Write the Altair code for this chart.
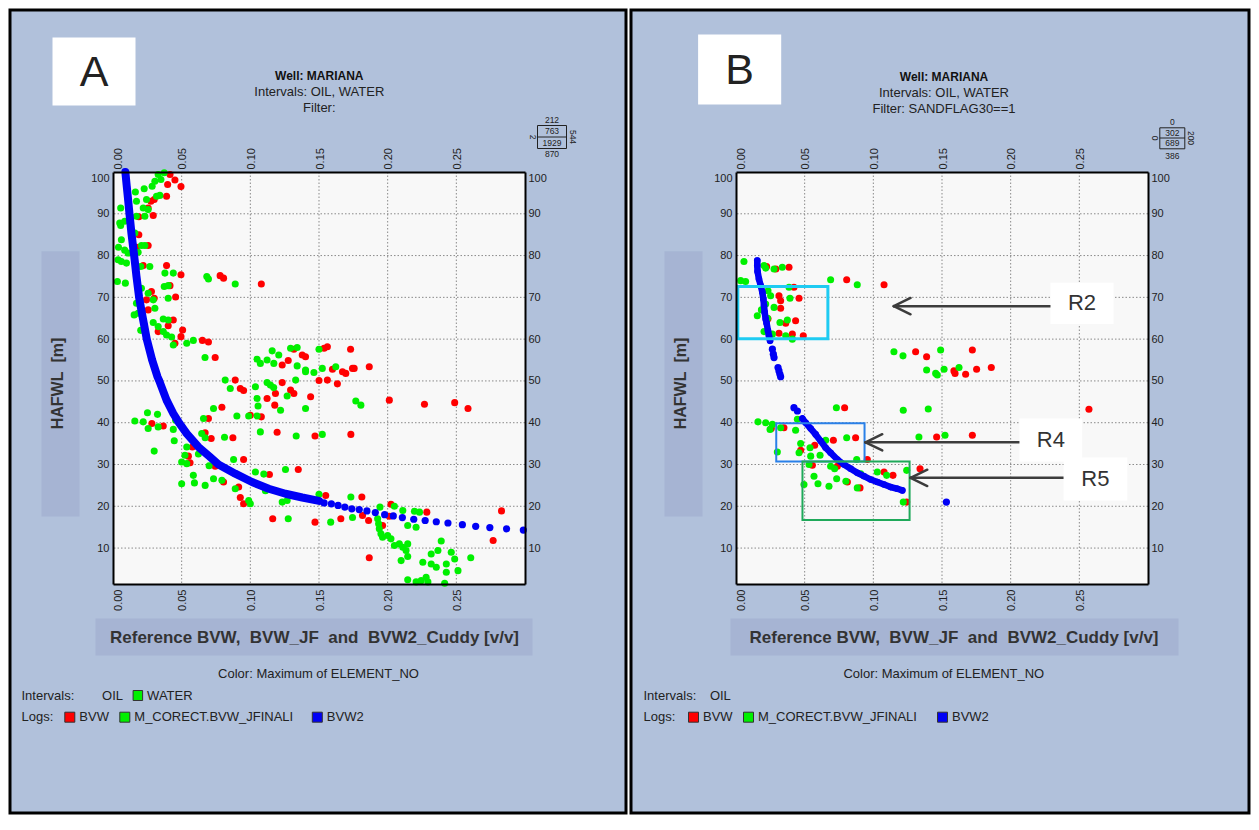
import altair as alt
import pandas as pd

# ------------------------------------------------------------------ data
X_TICKS = [0.00, 0.05, 0.10, 0.15, 0.20, 0.25]
X_GRID = [0.05, 0.10, 0.15, 0.20, 0.25]
Y_TICKS = [10, 20, 30, 40, 50, 60, 70, 80, 90, 100]
Y_GRID = [10, 20, 30, 40, 50, 60, 70, 80, 90]

# Panel A : BVW (red)
A_BVW = [
    (0.0415, 99.4), (0.0451, 98.1), (0.0495, 96.5), (0.0398, 97.0), (0.0390, 94.2), (0.0300, 93.4),
    (0.0276, 93.0), (0.0293, 89.6), (0.0256, 91.4), (0.0188, 89.3), (0.0188, 85.0), (0.0256, 82.4),
    (0.0171, 82.0), (0.0220, 77.6), (0.0390, 77.6), (0.0495, 75.4), (0.0780, 75.2), (0.0805, 74.6),
    (0.1080, 73.2), (0.0415, 72.8), (0.0456, 70.1), (0.0280, 71.4), (0.0300, 69.8), (0.0244, 69.4),
    (0.0439, 64.6), (0.0402, 63.2), (0.0507, 62.2), (0.0495, 60.6), (0.0651, 59.7), (0.0695, 59.3),
    (0.0744, 55.6), (0.0329, 61.8), (0.0451, 59.0), (0.0256, 67.0), (0.1317, 57.6), (0.1378, 56.2),
    (0.1402, 55.8), (0.1276, 54.9), (0.1232, 53.8), (0.1537, 57.8), (0.1561, 58.2), (0.1730, 57.6),
    (0.1598, 52.8), (0.1671, 52.2), (0.1695, 51.8), (0.1756, 53.0), (0.1866, 53.4), (0.0890, 50.2),
    (0.0927, 48.2), (0.0951, 47.7), (0.1122, 45.8), (0.1183, 47.0), (0.1178, 44.2), (0.1232, 49.6),
    (0.1293, 47.8), (0.1317, 47.0), (0.1439, 46.2), (0.1500, 50.1), (0.1561, 50.2), (0.1634, 49.3),
    (0.0793, 43.7), (0.1000, 41.8), (0.1080, 41.4), (0.0695, 41.0), (0.2012, 45.4), (0.2268, 44.4),
    (0.2488, 44.8), (0.2585, 43.4), (0.1744, 53.0), (0.0283, 39.8), (0.0366, 39.2), (0.0578, 34.2),
    (0.0671, 37.6), (0.0715, 36.2), (0.0873, 36.4), (0.1195, 37.7), (0.1471, 36.8), (0.1732, 37.2),
    (0.0549, 32.0), (0.0951, 31.2), (0.0744, 29.6), (0.0561, 30.4), (0.0805, 25.8), (0.0915, 24.6),
    (0.0927, 22.1), (0.0951, 20.6), (0.1139, 27.6), (0.1349, 28.8), (0.1163, 17.0), (0.1471, 16.2),
    (0.1549, 22.6), (0.1812, 22.2), (0.1659, 17.0), (0.1817, 17.8), (0.1861, 16.6), (0.2024, 20.5),
    (0.1963, 15.4), (0.2285, 18.6), (0.2829, 18.9), (0.2768, 11.8), (0.1866, 7.7), (0.2012, 17.6),
]

# Panel A : M_CORECT.BVW_JFINALI (green)
A_JF = [
    (0.0329, 99.4), (0.0373, 99.8), (0.0305, 97.8), (0.0349, 98.2), (0.0285, 96.6), (0.0227, 96.0),
    (0.0244, 93.4), (0.0163, 95.2), (0.0220, 91.4), (0.0256, 91.0), (0.0056, 91.4), (0.0341, 94.4),
    (0.0317, 94.2), (0.0171, 93.0), (0.0232, 89.4), (0.0049, 87.8), (0.0056, 87.2), (0.0085, 88.2),
    (0.0170, 89.4), (0.0061, 83.8), (0.0040, 82.0), (0.0085, 81.3), (0.0207, 82.4), (0.0232, 82.4),
    (0.0183, 80.8), (0.0159, 85.4), (0.0110, 80.6), (0.0037, 79.0), (0.0061, 78.6), (0.0098, 78.2),
    (0.0202, 77.4), (0.0268, 77.4), (0.0378, 75.8), (0.0439, 75.8), (0.0032, 73.8), (0.0090, 73.4),
    (0.0207, 72.2), (0.0373, 72.6), (0.0402, 72.8), (0.0402, 69.8), (0.0256, 71.0), (0.0683, 75.0),
    (0.0695, 74.4), (0.0890, 73.2), (0.0171, 68.6), (0.0195, 69.0), (0.0293, 69.4), (0.0305, 67.4),
    (0.0183, 66.2), (0.0154, 65.8), (0.0293, 64.0), (0.0366, 64.8), (0.0402, 64.6), (0.0329, 63.0),
    (0.0366, 61.8), (0.0427, 60.5), (0.0439, 58.6), (0.0537, 59.0), (0.0585, 59.7), (0.0202, 62.1),
    (0.0390, 61.0), (0.0670, 55.6), (0.1159, 57.2), (0.1207, 56.2), (0.1293, 57.8), (0.1341, 58.0),
    (0.1500, 57.6), (0.1049, 55.2), (0.1073, 54.2), (0.1122, 55.0), (0.1171, 54.2), (0.1341, 53.6),
    (0.1402, 52.6), (0.1463, 52.0), (0.1524, 53.0), (0.1622, 53.4), (0.0817, 50.2), (0.0854, 48.2),
    (0.1037, 48.6), (0.1049, 45.8), (0.1122, 49.6), (0.1146, 49.0), (0.1170, 48.4), (0.1268, 46.4),
    (0.1220, 43.0), (0.1056, 44.0), (0.1330, 50.2), (0.1402, 52.2), (0.1402, 43.4), (0.1049, 41.6),
    (0.0988, 41.6), (0.0902, 41.6), (0.0732, 43.4), (0.0659, 41.0), (0.1768, 45.2), (0.1805, 44.2),
    (0.0159, 40.4), (0.0220, 40.2), (0.0251, 42.4), (0.0324, 42.0), (0.0256, 38.6), (0.0329, 39.0),
    (0.0439, 38.4), (0.0456, 40.6), (0.0646, 37.4), (0.0671, 36.4), (0.0446, 35.7), (0.0300, 33.2),
    (0.0537, 34.2), (0.0524, 32.2), (0.0500, 30.6), (0.0537, 30.2), (0.0622, 32.5), (0.0812, 36.5),
    (0.1073, 37.8), (0.1334, 36.8), (0.1524, 37.2), (0.0878, 31.2), (0.0700, 29.7), (0.0500, 25.4),
    (0.0585, 27.4), (0.0593, 25.6), (0.0671, 25.0), (0.0732, 26.6), (0.0793, 26.2), (0.0890, 24.2),
    (0.1037, 28.2), (0.1098, 27.7), (0.1110, 23.7), (0.0988, 21.4), (0.1000, 20.6), (0.1232, 21.0),
    (0.1268, 21.4), (0.1256, 28.8), (0.1500, 22.9), (0.1732, 22.2), (0.1276, 17.0), (0.1585, 16.2),
    (0.1744, 17.3), (0.1944, 19.8), (0.2049, 20.0), (0.2110, 19.0), (0.2195, 18.8), (0.2232, 18.6),
    (0.1927, 17.0), (0.1934, 15.8), (0.1939, 14.6), (0.1951, 13.4), (0.1963, 12.6), (0.2000, 13.0),
    (0.2024, 12.2), (0.2049, 10.6), (0.2085, 11.0), (0.2110, 10.2), (0.2146, 11.0), (0.2134, 9.4),
    (0.2146, 8.0), (0.2098, 7.0), (0.2146, 15.4), (0.2207, 15.0), (0.2256, 6.6), (0.2317, 8.6),
    (0.2366, 9.4), (0.2463, 9.0), (0.2390, 11.7), (0.2317, 6.2), (0.2354, 5.4), (0.2427, 6.2),
    (0.2427, 4.2), (0.2488, 7.4), (0.2512, 4.6), (0.2605, 7.7), (0.2146, 2.4), (0.2207, 1.9),
    (0.2244, 2.2), (0.2280, 3.0), (0.2293, 1.9), (0.2415, 1.6),
]

# Panel A : BVW2 (blue) – continuous band and separate dots
A_BVW2_BAND = [
    (0.0090, 100.0), (0.0100, 96.6), (0.0110, 93.4), (0.0120, 90.0), (0.0134, 85.4), (0.0154, 80.0),
    (0.0171, 75.0), (0.0190, 70.0), (0.0215, 65.4), (0.0246, 60.0), (0.0285, 55.0), (0.0324, 51.0),
    (0.0337, 50.0), (0.0390, 45.4), (0.0439, 42.2), (0.0480, 40.0), (0.0537, 37.4), (0.0622, 34.2),
    (0.0707, 31.8), (0.0768, 30.0), (0.0890, 27.8), (0.1012, 25.8), (0.1134, 24.2), (0.1256, 23.0),
    (0.1378, 22.1), (0.1500, 21.3),
]
A_BVW2_DOTS = [
    (0.1537, 20.8), (0.1590, 20.6), (0.1639, 20.2), (0.1688, 19.8), (0.1739, 19.4), (0.1793, 19.2),
    (0.1849, 18.9), (0.1910, 18.5), (0.1978, 18.0), (0.2041, 17.7), (0.2107, 17.3), (0.2190, 16.9),
    (0.2273, 16.6), (0.2354, 16.3), (0.2439, 16.0), (0.2544, 15.6), (0.2641, 15.2), (0.2744, 14.9),
    (0.2866, 14.6), (0.2988, 14.3),
]

# Panel B
B_BVW = [
    (0.0223, 77.4), (0.0290, 76.8), (0.0386, 77.2), (0.0806, 74.2), (0.1078, 73.0), (0.0313, 70.4),
    (0.0325, 69.2), (0.0459, 69.8), (0.0422, 72.4), (0.0325, 67.4), (0.0233, 64.9), (0.0362, 63.8),
    (0.0434, 64.4), (0.0313, 61.4), (0.0410, 61.2), (0.0490, 60.8), (0.1308, 57.0), (0.1388, 55.8),
    (0.1721, 57.4), (0.1587, 52.4), (0.1595, 51.8), (0.1672, 51.6), (0.1752, 52.8), (0.1859, 53.2),
    (0.0791, 43.6), (0.2570, 43.2), (0.1461, 36.6), (0.1721, 37.0), (0.0257, 38.6), (0.0349, 38.8),
    (0.0709, 35.8), (0.0871, 36.4), (0.0556, 29.8), (0.0573, 34.6), (0.0471, 33.4), (0.0738, 29.6),
    (0.0956, 31.2), (0.1078, 28.2), (0.1143, 27.4), (0.1340, 29.0), (0.0811, 25.8), (0.0903, 24.4),
    (0.1243, 21.0),
]
B_JF = [
    (0.0058, 78.6), (0.0204, 77.6), (0.0216, 77.0), (0.0277, 76.8), (0.0337, 77.2), (0.0034, 74.0),
    (0.0070, 73.8), (0.0689, 74.2), (0.0883, 73.0), (0.0233, 71.6), (0.0252, 70.4), (0.0386, 72.4),
    (0.0393, 69.8), (0.0216, 68.4), (0.0277, 67.6), (0.0155, 65.6), (0.0320, 64.0), (0.0374, 64.6),
    (0.0204, 61.8), (0.0265, 61.2), (0.0362, 60.8), (0.0410, 60.0), (0.0185, 67.0), (0.0230, 65.0),
    (0.1150, 57.0), (0.1216, 56.0), (0.1490, 57.4), (0.1388, 52.6), (0.1454, 51.8), (0.1466, 51.4),
    (0.1515, 52.8), (0.1624, 53.2), (0.1218, 43.0), (0.1400, 43.3), (0.0731, 43.6), (0.1332, 36.6),
    (0.1522, 37.0), (0.0160, 40.2), (0.0216, 40.0), (0.0265, 39.6), (0.0248, 38.4), (0.0325, 38.8),
    (0.0434, 38.2), (0.0447, 40.8), (0.0301, 33.0), (0.0471, 35.0), (0.0459, 32.8), (0.0539, 34.0),
    (0.0544, 32.0), (0.0612, 32.2), (0.0653, 35.8), (0.0806, 36.4), (0.0532, 30.0), (0.0689, 29.6),
    (0.0718, 29.0), (0.0879, 31.2), (0.0908, 27.8), (0.1029, 28.2), (0.1097, 27.4), (0.1243, 28.6),
    (0.0495, 25.2), (0.0568, 27.2), (0.0597, 25.4), (0.0677, 24.8), (0.0733, 26.6), (0.0800, 26.0),
    (0.0883, 24.4), (0.1218, 21.0),
]
B_BVW2_TOP = [
    (0.0155, 78.8), (0.0155, 77.6), (0.0157, 76.2), (0.0167, 74.4), (0.0180, 72.8), (0.0192, 71.2),
    (0.0199, 69.6), (0.0204, 68.0), (0.0209, 66.4), (0.0216, 64.8), (0.0223, 63.8), (0.0233, 62.0),
    (0.0240, 60.8), (0.0248, 59.6),
]
B_BVW2_LOW = [
    (0.0483, 41.0), (0.0507, 40.0), (0.0544, 38.6), (0.0580, 37.2), (0.0617, 35.6), (0.0653, 34.0),
    (0.0689, 32.8), (0.0738, 31.2), (0.0786, 30.0), (0.0835, 29.0), (0.0883, 28.0), (0.0932, 27.2),
    (0.0981, 26.4), (0.1029, 25.8), (0.1078, 25.2), (0.1126, 24.6), (0.1175, 24.2), (0.1211, 23.8),
]
B_BVW2_DOTS = [
    (0.0265, 57.6), (0.0272, 56.4), (0.0277, 55.6), (0.0306, 53.2), (0.0313, 52.4), (0.0320, 51.6),
    (0.0325, 51.0), (0.0422, 43.6), (0.0447, 42.8), (0.1532, 21.0),
]

# Panel B annotations (data coordinates)
REGION_NAMES = ["R2", "R4", "R5"]
REGION_X0 = [0.0013, 0.0293, 0.0484]
REGION_X1 = [0.0669, 0.0936, 0.1264]
REGION_Y0 = [60.1, 30.7, 16.7]
REGION_Y1 = [72.6, 39.9, 30.7]
LABEL_X0 = [0.2290, 0.2064, 0.2385]
LABEL_X1 = [0.2749, 0.2521, 0.2849]
LABEL_Y0 = [63.6, 30.7, 21.4]
LABEL_Y1 = [73.5, 41.0, 31.7]
ARROW_Y = [67.9, 35.3, 26.8]
ARROW_TIP = [0.1149, 0.0943, 0.1271]

# ------------------------------------------------------------------ style
FONT = "Liberation Sans"
NB = "\u00a0"
BG = "#B1C1DB"
BOX = "#A6B4D3"
PLOT_BG = "#F8F8F8"
RED, GREEN, BLUE = "#FF0000", "#00F000", "#0000F5"
REGION_COLORS = ["#1FCBF2", "#2A80E8", "#1FA95A"]
REGION_WIDTHS = [3, 2, 2]
HEAD_DX, HEAD_DY = 0.0122, 1.95
W = H = 412
XD = [0.0, 0.30]
YD = [1.4, 100.0]
ONE = pd.DataFrame({"k": [0]})


def xsc():
    return alt.Scale(domain=XD, nice=False, zero=False)


def ysc():
    return alt.Scale(domain=YD, nice=False, zero=False)


def rect(x0, x1, y0, y1, fill, stroke=None, sw=1):
    kw = {}
    if fill is None:
        kw.update(filled=False, color=stroke, strokeWidth=sw)
    else:
        kw.update(fill=fill)
        if stroke:
            kw.update(stroke=stroke, strokeWidth=sw)
    return alt.Chart(ONE).mark_rect(**kw).encode(
        x=alt.value(x0), x2=alt.value(x1), y=alt.value(y0), y2=alt.value(y1))


def hline(x0, x1, y, color="#222"):
    return alt.Chart(ONE).mark_rule(color=color, strokeWidth=1).encode(
        x=alt.value(x0), x2=alt.value(x1), y=alt.value(y))


def text(s, x, y, size=13, weight="normal", align="center", angle=0, color="#222"):
    return alt.Chart(ONE).mark_text(
        text=s, font=FONT, fontSize=size, fontWeight=weight, align=align,
        baseline="middle", angle=angle, color=color).encode(x=alt.value(x), y=alt.value(y))


def x_axis(orient):
    return alt.Axis(
        orient=orient, values=X_TICKS, format=".2f", title=None, labelAngle=270,
        labelAlign="left" if orient == "top" else "right", labelBaseline="middle",
        labelPadding=3 if orient == "top" else 5,
        labelOffset={"condition": {"test": "datum.value == 0", "value": 5}, "value": 1},
        ticks=False, grid=False, domainColor="black", domainWidth=2,
        labelFont=FONT, labelFontSize=11, labelColor="#222", zindex=1)


def y_axis(orient):
    return alt.Axis(
        orient=orient, values=Y_TICKS, format="d", title=None,
        labelPadding=4 if orient == "left" else 3, labelFlush=True,
        ticks=False, grid=False, domainColor="black", domainWidth=2,
        labelFont=FONT, labelFontSize=11, labelColor="#222", zindex=1)


def pts(data, color, xa=None, ya=None, size=50):
    df = pd.DataFrame(data, columns=["x", "y"])
    return alt.Chart(df).mark_circle(size=size, color=color, opacity=1).encode(
        x=alt.X("x:Q", scale=xsc(), axis=xa), y=alt.Y("y:Q", scale=ysc(), axis=ya))


def band(data, width):
    df = pd.DataFrame(data, columns=["x", "y"])
    df["i"] = range(len(df))
    return alt.Chart(df).mark_line(color=BLUE, strokeWidth=width, strokeCap="round",
                                   strokeJoin="round").encode(
        x=alt.X("x:Q", scale=xsc(), axis=None), y=alt.Y("y:Q", scale=ysc(), axis=None),
        order="i:Q")


def panel(c):
    L = []
    # frame and background
    L.append(rect(c["fx0"], c["fx1"], -163.5, 642.5, "black"))
    L.append(rect(c["fx0"] + 3, c["fx1"] - 3, -160.5, 639.5, BG))
    # letter box
    bx = c["letter_box"]
    L.append(rect(bx[0], bx[1], bx[2], bx[3], "white"))
    L.append(text(c["letter"], (bx[0] + bx[1]) / 2, (bx[2] + bx[3]) / 2 + 1, size=43, color="#222"))
    # titles
    tx = c["title_x"]
    ty = c["title_y"]
    L.append(text("Well: MARIANA", tx, ty[0], size=12, weight="bold", color="#111"))
    L.append(text("Intervals: OIL, WATER", tx, ty[1], size=13))
    L.append(text(c["filter"], tx, ty[2], size=13))
    # stats box
    s = c["stats"]
    L.append(rect(s["x0"], s["x1"], s["y0"], s["y1"], None, stroke="#222", sw=1))
    L.append(hline(s["x0"], s["x1"], s["ym"]))
    cx = (s["x0"] + s["x1"]) / 2
    L.append(text(s["t"][0], cx, s["ty"][0], size=8.5))
    L.append(text(s["t"][1], cx, s["ty"][1], size=8.5))
    L.append(text(s["t"][2], cx, s["ty"][2], size=8.5))
    L.append(text(s["t"][3], cx, s["ty"][3], size=8.5))
    L.append(text(s["t"][4], s["x0"] - 5, s["ym"], size=8.5, angle=90))
    L.append(text(s["t"][5], s["x1"] + 6, s["ym"], size=8.5, angle=90))
    # axis title boxes
    L.append(rect(-71.5, -33.5, 79.2, 344.5, BOX))
    L.append(text("HAFWL" + NB + NB + "[m]", -55.5, 211.5, size=16, weight="bold", angle=270,
                  color="#333"))
    xb = c["xtitle_box"]
    L.append(rect(xb[0], xb[1], 446.5, 483.5, BOX))
    xt = "Reference BVW," + NB + NB + "BVW_JF" + NB + NB + "and" + NB + NB + "BVW2_Cuddy [v/v]"
    L.append(text(xt, c["xtitle_x"], 465.5, size=17, weight="bold", color="#333"))
    # legend
    L.append(text("Color: Maximum of ELEMENT_NO", c["color_x"], 502, size=13))
    lg = c["legend"]
    L.append(text("Intervals:", lg["left"], 523.5, align="left"))
    L.append(text("OIL", lg["oil"], 523.5, align="left"))
    if lg.get("water") is not None:
        w0 = lg["water"]
        L.append(rect(w0, w0 + 9.5, 518.5, 528.5, GREEN, stroke="#333"))
        L.append(text("WATER", w0 + 14, 523.5, align="left"))
    L.append(text("Logs:", lg["left"], 545.2, align="left"))
    for x0, col, name in zip(lg["logs"], [RED, GREEN, BLUE],
                             ["BVW", "M_CORECT.BVW_JFINALI", "BVW2"]):
        L.append(rect(x0, x0 + 10, 540.2, 550.2, col, stroke="#333"))
        L.append(text(name, x0 + 14.5, 545.2, align="left"))
    # plot area
    L.append(rect(0, W, 0, H, PLOT_BG))
    L.append(alt.Chart(pd.DataFrame({"g": X_GRID})).mark_rule(
        color="#8A8A8A", strokeDash=[1.5, 2], strokeWidth=1).encode(
        x=alt.X("g:Q", scale=xsc(), axis=None)))
    L.append(alt.Chart(pd.DataFrame({"g": Y_GRID})).mark_rule(
        color="#8A8A8A", strokeDash=[1.5, 2], strokeWidth=1).encode(
        y=alt.Y("g:Q", scale=ysc(), axis=None)))
    # data
    L.append(pts(c["red"], RED, x_axis("bottom"), y_axis("left")))
    L.append(pts(c["green"], GREEN, x_axis("top"), y_axis("right")))
    for b in c["bands"]:
        L.append(band(b, c["band_w"]))
        L.append(pts(b, BLUE, size=44))
    L.append(pts(c["dots"], BLUE, size=52))
    L.extend(c.get("extra", []))
    return alt.layer(*L).resolve_axis(x="independent", y="independent").properties(
        width=W, height=H)


def annotations():
    out = []
    reg = pd.DataFrame({"x0": REGION_X0, "x1": REGION_X1, "y0": REGION_Y0, "y1": REGION_Y1})
    for i in range(len(REGION_NAMES)):
        out.append(alt.Chart(reg.iloc[[i]]).mark_rect(
            filled=False, color=REGION_COLORS[i], strokeWidth=REGION_WIDTHS[i]).encode(
            x=alt.X("x0:Q", scale=xsc(), axis=None), x2="x1:Q",
            y=alt.Y("y0:Q", scale=ysc(), axis=None), y2="y1:Q"))
    segs = []
    for i in range(len(REGION_NAMES)):
        tip, yy = ARROW_TIP[i], ARROW_Y[i]
        segs.append((LABEL_X0[i], tip, yy, yy))
        segs.append((tip, tip + HEAD_DX, yy, yy + HEAD_DY))
        segs.append((tip, tip + HEAD_DX, yy, yy - HEAD_DY))
    sdf = pd.DataFrame(segs, columns=["x", "x2", "y", "y2"])
    out.append(alt.Chart(sdf).mark_rule(color="#3C3C3C", strokeWidth=2.5, strokeCap="round").encode(
        x=alt.X("x:Q", scale=xsc(), axis=None), x2="x2:Q",
        y=alt.Y("y:Q", scale=ysc(), axis=None), y2="y2:Q"))
    lab = pd.DataFrame({"name": REGION_NAMES, "x0": LABEL_X0, "x1": LABEL_X1,
                        "y0": LABEL_Y0, "y1": LABEL_Y1})
    lab["cx"] = (lab["x0"] + lab["x1"]) / 2
    lab["cy"] = (lab["y0"] + lab["y1"]) / 2
    out.append(alt.Chart(lab).mark_rect(fill="white").encode(
        x=alt.X("x0:Q", scale=xsc(), axis=None), x2="x1:Q",
        y=alt.Y("y0:Q", scale=ysc(), axis=None), y2="y1:Q"))
    out.append(alt.Chart(lab).mark_text(font=FONT, fontSize=22, color="#333",
                                        baseline="middle").encode(
        x=alt.X("cx:Q", scale=xsc(), axis=None), y=alt.Y("cy:Q", scale=ysc(), axis=None),
        text="name:N"))
    return out


cfg_a = dict(
    fx0=-104.5, fx1=514.5, letter="A", letter_box=(-60.5, 22.5, -134.5, -66.5),
    title_x=206.3, title_y=(-96.0, -80.5, -64.5), filter="Filter:",
    stats=dict(x0=424.5, x1=453.5, y0=-46.5, y1=-23.5, ym=-35.0,
               t=["212", "763", "1929", "870", "2", "544"], ty=[-52.5, -41.0, -29.5, -18.0]),
    xtitle_box=(-17.5, 419.5), xtitle_x=201.5, color_x=205.5,
    legend=dict(left=-91.5, oil=-10.9, water=20.1, logs=[-48.2, 6.8, 199.3]),
    red=A_BVW, green=A_JF, bands=[A_BVW2_BAND], band_w=8, dots=A_BVW2_DOTS,
)
cfg_b = dict(
    fx0=-106.5, fx1=514.5, letter="B", letter_box=(-37.9, 45.2, -137.5, -67.5),
    title_x=208.0, title_y=(-95.0, -79.2, -63.2), filter="Filter: SANDFLAG30==1",
    stats=dict(x0=423.8, x1=448.8, y0=-44.2, y1=-23.2, ym=-34.0,
               t=["0", "302", "689", "386", "0", "200"], ty=[-50.5, -39.5, -28.7, -15.8]),
    xtitle_box=(-5.5, 442.5), xtitle_x=218.0, color_x=207.8,
    legend=dict(left=-92.5, oil=-26.1, water=None, logs=[-47.5, 7.5, 201.5]),
    red=B_BVW, green=B_JF, bands=[B_BVW2_TOP, B_BVW2_LOW], band_w=6.5, dots=B_BVW2_DOTS,
    extra=annotations(),
)

chart = alt.hconcat(panel(cfg_a), panel(cfg_b), spacing=211, bounds="flush").properties(
    padding=0, background="white").configure_view(stroke=None)

chart.save("out.html", embed_options={"renderer": "svg", "actions": False})
